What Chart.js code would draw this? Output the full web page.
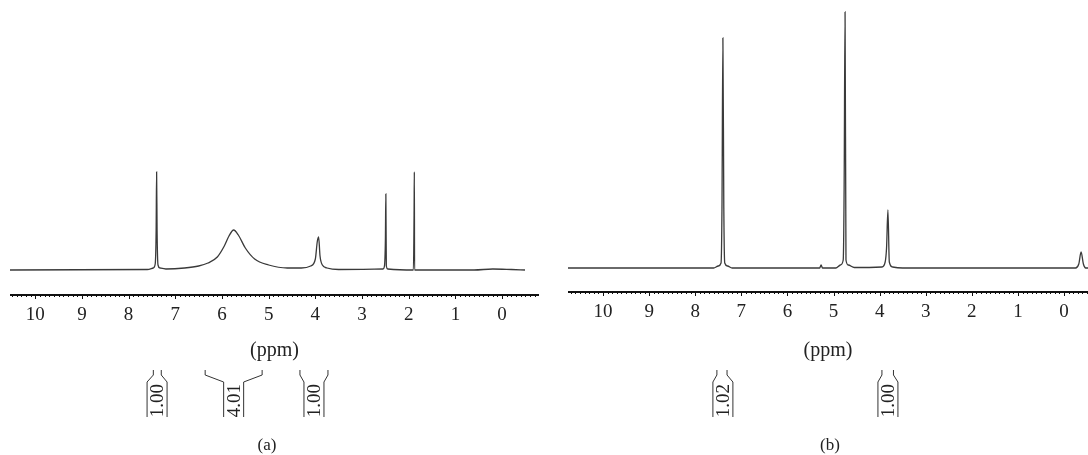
<!DOCTYPE html>
<html>
<head>
<meta charset="utf-8">
<script src="https://cdn.jsdelivr.net/npm/chart.js@4"></script>
<style>
  body { margin: 0; background: #fff; width: 1088px; height: 455px; position: relative; overflow: hidden; }
  canvas { position: absolute; top: 0; }
  .panel-label { position: absolute; top: 435px; font: 17px "Liberation Serif", serif; color: #222; transform: translateX(-50%); }
</style>
</head>
<body>
<canvas id="specA" width="529" height="455" style="left:10px"></canvas>
<canvas id="specB" width="520" height="455" style="left:568px"></canvas>
<div class="panel-label" style="left:267px">(a)</div>
<div class="panel-label" style="left:830px">(b)</div>
<script>
// spectrum (a): chemical shift (ppm) and intensity
const aPpm = [10.54, 7.60, 7.47, 7.43, 7.41, 7.40, 7.39, 7.37, 7.33, 7.2, 6.8, 6.5, 6.3, 6.1, 5.95, 5.85, 5.75, 5.65, 5.5, 5.3, 5.0, 4.6, 4.3, 4.1, 4.0, 3.96, 3.93, 3.90, 3.85, 3.75, 3.5, 2.55, 2.52, 2.50, 2.49, 2.48, 2.45, 1.90, 1.885, 1.88, 1.875, 1.85, 1.2, 0.6, 0.2, -0.2, -0.49];
const aInt = [0, 0.5, 2, 6, 40, 98, 40, 5, 2, 1, 2, 4, 7, 13, 24, 34, 40, 35, 22, 11, 5, 2, 2, 4, 11, 28, 33, 14, 5, 2, 0.5, 1, 4, 30, 76, 4, 1, 0, 60, 98, 0, 0, 0, 0, 1, 0.5, 0];

// spectrum (b)
const bPpm = [10.76, 7.6, 7.5, 7.44, 7.42, 7.40, 7.38, 7.36, 7.3, 7.2, 5.3, 5.27, 5.24, 4.95, 4.85, 4.79, 4.77, 4.75, 4.73, 4.68, 4.55, 3.95, 3.88, 3.85, 3.82, 3.79, 3.72, 3.5, -0.25, -0.32, -0.37, -0.42, -0.47, -0.52];
const bInt = [0, 0, 2, 5, 60, 230, 60, 5, 2, 0, 0, 3, 0, 0, 3, 8, 80, 256, 8, 3, 0.5, 1, 6, 20, 58, 6, 1, 0, 0, 4, 16, 4, 0, 0];

// integrals: ppm range of the bracket, centre of the label box, value
const aIntFrom = [7.47, 6.36, 4.33];
const aIntTo = [7.30, 5.14, 3.73];
const aIntMid = [7.39, 5.75, 4.03];
const aIntLabels = ["1.00", "4.01", "1.00"];

const bIntFrom = [7.53, 3.95];
const bIntTo = [7.31, 3.70];
const bIntMid = [7.40, 3.82];
const bIntLabels = ["1.02", "1.00"];

const serif = '"Liberation Serif", "Times New Roman", serif';

// minor ticks every 0.1 ppm, long ones on whole numbers, plus the integral brackets
const nmrDecor = {
  id: 'nmrDecor',
  afterDraw(chart, args, opts) {
    const ctx = chart.ctx;
    const sx = chart.scales.x;
    const y0 = chart.chartArea.bottom;
    ctx.save();
    ctx.strokeStyle = '#111';
    ctx.lineWidth = 1;
    sx.ticks.forEach(t => {
      const x = Math.round(sx.getPixelForValue(t.value)) + 0.5;
      const major = Math.abs(t.value - Math.round(t.value)) < 1e-6;
      ctx.beginPath();
      ctx.moveTo(x, y0);
      ctx.lineTo(x, y0 + (major ? 4 : 2));
      ctx.stroke();
    });

    ctx.strokeStyle = '#333';
    ctx.fillStyle = '#222';
    ctx.font = '19px ' + serif;
    ctx.textAlign = 'center';
    ctx.textBaseline = 'middle';
    const hw = 10;
    opts.from.forEach((f, i) => {
      const xl = sx.getPixelForValue(f);
      const xr = sx.getPixelForValue(opts.to[i]);
      const xc = sx.getPixelForValue(opts.mid[i]);
      const top = 370, bend = 375, box = 382, bottom = 417;
      ctx.beginPath();
      ctx.moveTo(xl, top); ctx.lineTo(xl, bend); ctx.lineTo(xc - hw, box); ctx.lineTo(xc - hw, bottom);
      ctx.moveTo(xr, top); ctx.lineTo(xr, bend); ctx.lineTo(xc + hw, box); ctx.lineTo(xc + hw, bottom);
      ctx.stroke();
      ctx.save();
      ctx.translate(xc, (box + bottom) / 2 + 1);
      ctx.rotate(-Math.PI / 2);
      ctx.fillText(opts.labels[i], 0, 1);
      ctx.restore();
    });
    ctx.restore();
  }
};

function makeSpectrum(id, ppm, intens, xmin, xmax, ymin, ymax, scaleH, integ) {
  const pts = ppm.map((p, i) => ({ x: p, y: intens[i] }));
  return new Chart(document.getElementById(id), {
    type: 'line',
    data: {
      datasets: [{
        data: pts,
        borderColor: '#3a3a3a',
        borderWidth: 1.3,
        pointRadius: 0,
        cubicInterpolationMode: 'monotone',
        fill: false
      }]
    },
    options: {
      responsive: false,
      animation: false,
      layout: { padding: 0 },
      plugins: { legend: { display: false }, tooltip: { enabled: false }, nmrDecor: integ },
      scales: {
        x: {
          type: 'linear',
          reverse: true,
          min: xmin,
          max: xmax,
          afterBuildTicks: (scale) => {
            const t = [];
            for (let v = Math.ceil(xmin * 10); v <= Math.floor(xmax * 10); v++) t.push({ value: v / 10 });
            scale.ticks = t;
          },
          afterFit: (scale) => { scale.height = scaleH; },
          grid: { display: false, drawTicks: false },
          border: { display: true, color: '#111', width: 2 },
          ticks: {
            autoSkip: false,
            maxRotation: 0,
            padding: 9,
            color: '#222',
            font: { family: serif, size: 19 },
            callback: (v) => Math.abs(v - Math.round(v)) < 1e-6 ? String(Math.round(v)) : ''
          },
          title: {
            display: true,
            text: '(ppm)',
            color: '#222',
            font: { family: serif, size: 20 },
            padding: { top: 0, bottom: 92 }
          }
        },
        y: { display: false, min: ymin, max: ymax }
      }
    },
    plugins: [nmrDecor]
  });
}

makeSpectrum('specA', aPpm, aInt, -0.79, 10.54, -25, 270, 160,
  { from: aIntFrom, to: aIntTo, mid: aIntMid, labels: aIntLabels });
makeSpectrum('specB', bPpm, bInt, -0.52, 10.76, -24, 268, 163,
  { from: bIntFrom, to: bIntTo, mid: bIntMid, labels: bIntLabels });
</script>
</body>
</html>
